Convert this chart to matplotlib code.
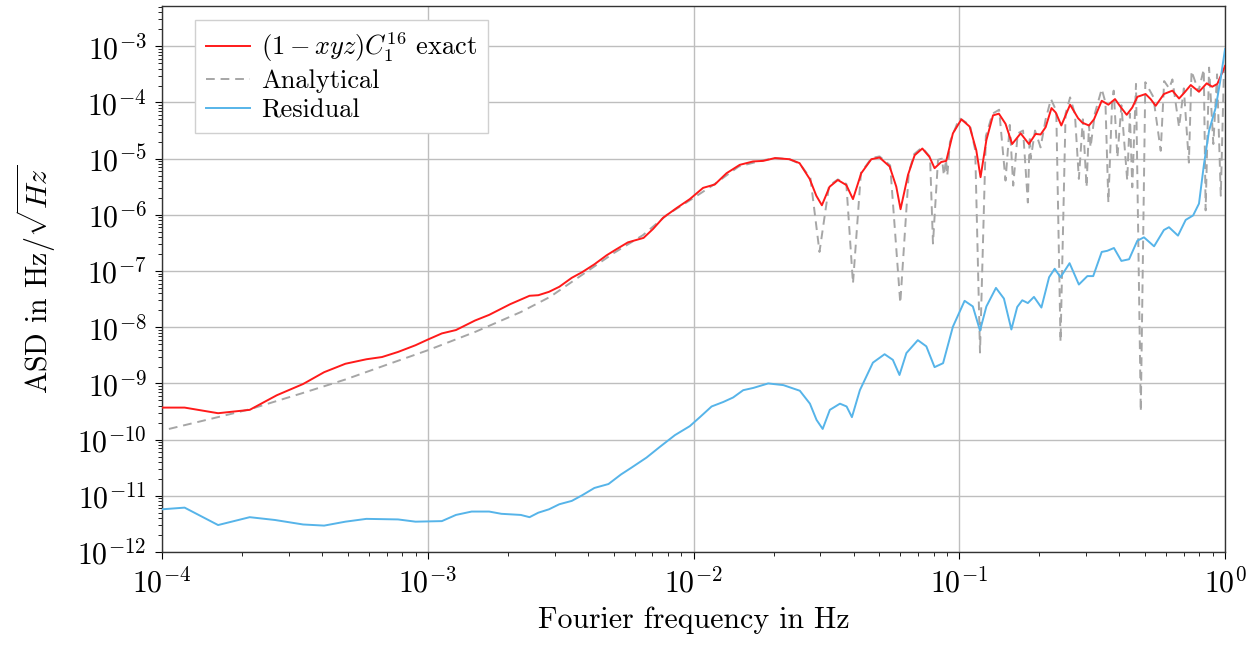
import numpy as np
import matplotlib.pyplot as plt
from matplotlib.ticker import LogLocator, NullFormatter

plt.rcParams['font.family'] = 'cmr10'
plt.rcParams['mathtext.fontset'] = 'cm'
plt.rcParams['axes.unicode_minus'] = False
plt.rcParams['axes.formatter.use_mathtext'] = True

red_logf = [-4.0, -3.915, -3.789, -3.670, -3.568, -3.469, -3.390, -3.310, -3.231, -3.172,
            -3.112, -3.046, -3.0, -2.947, -2.894, -2.822, -2.769, -2.690, -2.617, -2.584,
            -2.544, -2.505, -2.458, -2.419, -2.373, -2.327, -2.293, -2.247, -2.188, -2.152,
            -2.114, -2.064, -2.014, -1.964, -1.920, -1.876, -1.826, -1.776, -1.738, -1.694,
            -1.639, -1.601, -1.563, -1.538, -1.517, -1.488, -1.457, -1.425, -1.400, -1.369,
            -1.331, -1.300, -1.262, -1.237, -1.221, -1.193, -1.168, -1.139, -1.112, -1.093,
            -1.068, -1.049, -1.024, -0.992, -0.961, -0.936, -0.920, -0.898, -0.873, -0.851,
            -0.826, -0.801, -0.769, -0.738, -0.713, -0.694, -0.675, -0.653, -0.637, -0.616,
            -0.583, -0.553, -0.537, -0.512, -0.493, -0.464, -0.439, -0.414, -0.393, -0.370,
            -0.349, -0.330, -0.299, -0.280, -0.261, -0.230, -0.198, -0.173, -0.152, -0.129,
            -0.098, -0.069, -0.048, -0.029, 0.0]
red_logasd = [-9.43, -9.43, -9.53, -9.47, -9.21, -9.01, -8.80, -8.65, -8.57, -8.53,
              -8.44, -8.32, -8.22, -8.11, -8.05, -7.88, -7.78, -7.59, -7.44, -7.43,
              -7.37, -7.28, -7.12, -7.02, -6.88, -6.72, -6.62, -6.49, -6.41, -6.25,
              -6.05, -5.88, -5.72, -5.52, -5.46, -5.26, -5.11, -5.05, -5.04, -4.99,
              -5.01, -5.08, -5.36, -5.66, -5.83, -5.50, -5.38, -5.47, -5.72, -5.26,
              -5.01, -4.98, -5.14, -5.50, -5.90, -5.29, -4.94, -4.82, -4.97, -5.17,
              -5.06, -5.04, -4.55, -4.30, -4.43, -4.85, -5.33, -4.67, -4.23, -4.20,
              -4.38, -4.74, -4.55, -4.74, -4.56, -4.57, -4.44, -4.10, -4.18, -4.41,
              -4.04, -4.28, -4.36, -4.41, -4.30, -3.97, -4.04, -3.94, -4.08, -4.22,
              -4.09, -3.90, -3.85, -3.94, -4.06, -3.85, -3.79, -3.93, -3.82, -3.69,
              -3.81, -3.66, -3.72, -3.67, -3.35]

ana_logf = [-3.974, -3.79, -3.67, -3.47, -3.31, -3.15, -3.0, -2.82, -2.65, -2.54,
            -2.42, -2.30, -2.19, -2.10, -2.00, -1.92, -1.83, -1.74, -1.69, -1.64,
            -1.60, -1.56, -1.526, -1.49, -1.457, -1.425, -1.400, -1.37, -1.33, -1.30,
            -1.26, -1.222, -1.19, -1.17, -1.14, -1.11, -1.099, -1.08, -1.065, -1.058,
            -1.050, -1.045, -1.035, -1.0, -0.96, -0.94, -0.922, -0.90, -0.875, -0.85,
            -0.826, -0.81, -0.797, -0.78, -0.76, -0.742, -0.735, -0.731, -0.715, -0.694,
            -0.675, -0.655, -0.635, -0.619, -0.60, -0.583, -0.565, -0.550, -0.535, -0.521,
            -0.512, -0.506, -0.49, -0.464, -0.45, -0.439, -0.425, -0.419, -0.405, -0.39,
            -0.368, -0.358, -0.349, -0.335, -0.317, -0.30, -0.27, -0.242, -0.229, -0.21,
            -0.198, -0.173, -0.155, -0.136, -0.126, -0.10, -0.08, -0.073, -0.06, -0.044,
            -0.03, -0.016, -0.004, 0.0]
ana_logasd = [-9.81, -9.60, -9.46, -9.17, -8.93, -8.66, -8.41, -8.08, -7.73, -7.46,
              -7.07, -6.68, -6.36, -6.00, -5.70, -5.45, -5.14, -5.03, -4.99, -5.01,
              -5.09, -5.35, -6.66, -5.48, -5.37, -5.45, -7.22, -5.25, -4.99, -4.96,
              -5.12, -7.57, -5.25, -4.92, -4.80, -4.97, -6.51, -5.02, -5.00, -5.30,
              -5.02, -5.30, -4.70, -4.28, -4.40, -4.85, -8.45, -4.60, -4.20, -4.13,
              -5.39, -4.40, -5.48, -4.55, -4.50, -5.78, -4.60, -5.00, -4.50, -4.80,
              -4.30, -3.94, -4.15, -8.26, -4.20, -3.91, -4.20, -5.36, -4.30, -5.51,
              -4.40, -4.80, -4.20, -3.76, -4.00, -5.78, -4.00, -3.79, -4.98, -4.05,
              -5.39, -4.20, -5.51, -3.67, -9.50, -3.64, -3.90, -4.86, -3.62, -3.75,
              -3.59, -4.44, -3.75, -5.07, -3.44, -3.80, -3.41, -5.92, -3.38, -4.74,
              -3.50, -5.66, -3.41, -3.42]

res_logf = [-4.0, -3.915, -3.789, -3.670, -3.575, -3.469, -3.390, -3.310, -3.231, -3.112,
            -3.046, -2.947, -2.894, -2.835, -2.769, -2.723, -2.650, -2.617, -2.584, -2.544,
            -2.505, -2.458, -2.419, -2.373, -2.320, -2.273, -2.234, -2.177, -2.127, -2.070,
            -2.014, -1.976, -1.932, -1.888, -1.851, -1.813, -1.775, -1.719, -1.662, -1.600,
            -1.562, -1.537, -1.514, -1.487, -1.449, -1.424, -1.404, -1.374, -1.356, -1.325,
            -1.281, -1.250, -1.225, -1.199, -1.156, -1.124, -1.093, -1.061, -1.024, -0.980,
            -0.949, -0.922, -0.898, -0.862, -0.832, -0.804, -0.782, -0.763, -0.742, -0.719,
            -0.691, -0.662, -0.641, -0.619, -0.585, -0.550, -0.518, -0.496, -0.464, -0.443,
            -0.418, -0.390, -0.361, -0.330, -0.305, -0.267, -0.230, -0.211, -0.177, -0.148,
            -0.120, -0.098, -0.079, -0.060, -0.035, -0.016, 0.0]
res_logasd = [-11.24, -11.21, -11.52, -11.38, -11.43, -11.51, -11.53, -11.46, -11.41, -11.42,
              -11.46, -11.45, -11.34, -11.28, -11.28, -11.32, -11.34, -11.38, -11.30, -11.24,
              -11.15, -11.09, -10.99, -10.86, -10.79, -10.62, -10.50, -10.32, -10.13, -9.92,
              -9.76, -9.60, -9.41, -9.33, -9.25, -9.12, -9.08, -9.00, -9.03, -9.13,
              -9.36, -9.65, -9.81, -9.47, -9.36, -9.41, -9.60, -9.12, -8.94, -8.63,
              -8.48, -8.58, -8.85, -8.46, -8.23, -8.34, -8.71, -8.64, -7.99, -7.53,
              -7.63, -8.06, -7.63, -7.30, -7.49, -8.04, -7.64, -7.52, -7.57, -7.46,
              -7.65, -7.11, -6.96, -7.11, -6.86, -7.24, -7.09, -7.09, -6.66, -6.64,
              -6.59, -6.82, -6.79, -6.46, -6.40, -6.56, -6.27, -6.22, -6.37, -6.09,
              -6.01, -5.80, -5.09, -4.50, -4.09, -3.56, -3.05]

red_f = 10.0 ** np.array(red_logf)
red_asd = 10.0 ** np.array(red_logasd)
ana_f = 10.0 ** np.array(ana_logf)
ana_asd = 10.0 ** np.array(ana_logasd)
res_f = 10.0 ** np.array(res_logf)
res_asd = 10.0 ** np.array(res_logasd)

fig = plt.figure(figsize=(12.54, 6.47), dpi=100)
ax = fig.add_axes([0.1292, 0.1468, 0.8477, 0.8439])

ax.plot(red_f, red_asd, color='#ff1a1a', lw=1.4, label=r'$(1-xyz)C_1^{16}$ exact', zorder=3)
ax.plot(ana_f, ana_asd, color='#a6a6a6', lw=1.4, ls=(0, (4.5, 3)), label='Analytical', zorder=2)
ax.plot(res_f, res_asd, color='#56b4e9', lw=1.4, label='Residual', zorder=3)

ax.set_xscale('log')
ax.set_yscale('log')
ax.set_xlim(1e-4, 1)
ax.set_ylim(1e-12, 5.2e-3)

ax.xaxis.set_major_locator(LogLocator(base=10, numticks=20))
ax.yaxis.set_major_locator(LogLocator(base=10, numticks=20))
ax.xaxis.set_minor_locator(LogLocator(base=10, subs=np.arange(2, 10), numticks=100))
ax.yaxis.set_minor_locator(LogLocator(base=10, subs=np.arange(2, 10), numticks=100))
ax.xaxis.set_minor_formatter(NullFormatter())
ax.yaxis.set_minor_formatter(NullFormatter())

ax.tick_params(which='major', direction='out', length=5, width=0.8, labelsize=21.5, pad=6)
ax.tick_params(which='minor', direction='out', length=3, width=0.6)
ax.grid(True, which='major', color='#bebebe', lw=1.0)
for s in ax.spines.values():
    s.set_linewidth(1.0)
    s.set_color('#333333')

ax.set_xlabel('Fourier frequency in Hz', fontsize=21.5, labelpad=6)
ax.set_ylabel(r'ASD in Hz/$\sqrt{Hz}$', fontsize=21.5, labelpad=14)

leg = ax.legend(loc='upper left', bbox_to_anchor=(0.031, 0.974), borderaxespad=0,
                fontsize=19, fancybox=False, edgecolor='#d0d0d0', framealpha=1,
                handlelength=1.7, handletextpad=0.4, labelspacing=0.2, borderpad=0.4)
leg.get_frame().set_linewidth(1.0)

fig.savefig('out.png', dpi=100)
